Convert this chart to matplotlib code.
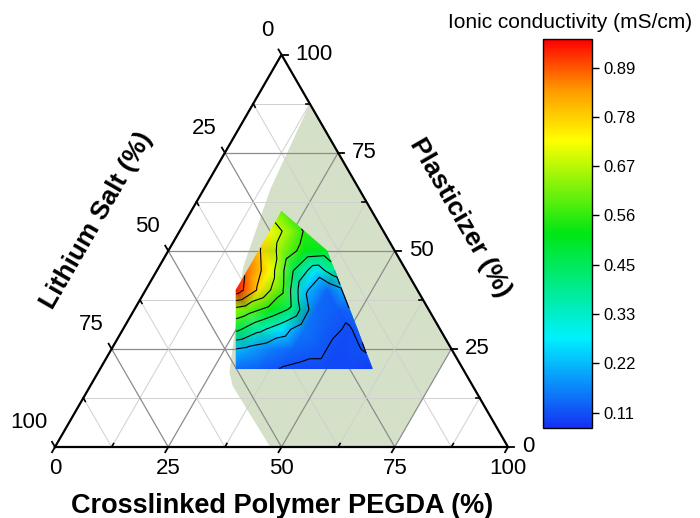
import numpy as np
import matplotlib.pyplot as plt
import matplotlib.tri as mtri
from matplotlib.colors import LinearSegmentedColormap, Normalize
from matplotlib.cm import ScalarMappable
from matplotlib.patches import Polygon

plt.rcParams['font.family'] = ['Liberation Sans', 'DejaVu Sans']


# =====================
# DATA (%)
# =====================

pegda = [20,
         20, 25, 27.5,
         20, 25, 30, 35,
         20, 25, 30, 35, 39.2,
         20, 25, 30, 35, 40, 43.3,
         22.5, 25, 30, 35, 40, 45, 47.5,
         25, 30, 35, 40, 45, 50, 51.7,
         27.5, 30, 35, 40, 45, 50, 55, 55.8,
         30, 35, 40, 45, 50, 55, 60]
plasticizer = [60,
               55, 55, 55,
               50, 50, 50, 50,
               45, 45, 45, 45, 45,
               40, 40, 40, 40, 40, 40,
               35, 35, 35, 35, 35, 35, 35,
               30, 30, 30, 30, 30, 30, 30,
               25, 25, 25, 25, 25, 25, 25, 25,
               20, 20, 20, 20, 20, 20, 20]
conductivity = [0.60,
                0.72, 0.62, 0.55,
                0.79, 0.63, 0.52, 0.50,
                0.87, 0.72, 0.45, 0.27, 0.40,
                0.95, 0.76, 0.58, 0.24, 0.13, 0.20,
                0.63, 0.60, 0.52, 0.42, 0.14, 0.12, 0.13,
                0.47, 0.36, 0.27, 0.15, 0.12, 0.105, 0.12,
                0.22, 0.20, 0.16, 0.13, 0.12, 0.10, 0.11, 0.115,
                0.14, 0.125, 0.108, 0.10, 0.10, 0.10, 0.09]

# shaded composition window
green_pegda = [12.5, 14.7, 18.6, 29.0, 31.5, 47.5, 75, 75]
green_plast = [87.5, 65.6, 45.9, 19.0, 15.5, 0, 0, 25]

axis_ticks = [0, 25, 50, 75, 100]
cbar_ticks = [0.11, 0.221, 0.333, 0.444, 0.556, 0.667, 0.779, 0.89]
cbar_labels = ['0.11', '0.22', '0.33', '0.45', '0.56', '0.67', '0.78', '0.89']


# =====================
# HELPERS
# =====================

H = np.sqrt(3) / 2
PX = 1 / 453  # one pixel in data units


def tern(c, p):
    c = np.asarray(c, dtype=float) / 100
    p = np.asarray(p, dtype=float) / 100
    return c + p / 2, p * H


def pix(xp, yp):
    return (xp - 55) * PX, (447 - yp) * PX


fig = plt.figure(figsize=(7, 5.18), dpi=100)
ax = fig.add_axes([0, 0, 1, 1])
ax.set_xlim(-55 * PX, 645 * PX)
ax.set_ylim(-71 * PX, 447 * PX)
ax.axis('off')

cmap = LinearSegmentedColormap.from_list('ionic', [
    (0.0, '#1432f5'), (0.23, '#00f0ff'), (0.50, '#00e614'),
    (0.74, '#ffff00'), (0.87, '#ff9900'), (1.0, '#ff0000')])
norm = Normalize(vmin=0.075, vmax=0.955)


# =====================
# SHADED REGION + GRID
# =====================

gx, gy = tern(green_pegda, green_plast)
ax.add_patch(Polygon(np.column_stack([gx, gy]), facecolor='#d5e0c8',
                     edgecolor='none', zorder=1))

for v in np.arange(12.5, 100, 12.5):
    major = v % 25 == 0
    col = '#8c8c8c' if major else '#d0d0d0'
    lw = 0.9 if major else 0.7
    for c0, p0, c1, p1 in [(0, v, 100 - v, v),
                           (v, 0, v, 100 - v),
                           (100 - v, 0, 0, 100 - v)]:
        x, y = tern([c0, c1], [p0, p1])
        ax.plot(x, y, color=col, lw=lw, zorder=2)


# =====================
# CONTOUR
# =====================

tx, ty = tern(pegda, plasticizer)
tri = mtri.Triangulation(tx, ty)
ax.tripcolor(tri, conductivity, shading='gouraud', cmap=cmap, norm=norm,
             zorder=3)
ax.tricontour(tri, conductivity, levels=cbar_ticks, colors='k',
              linewidths=0.8, zorder=4)


# =====================
# FRAME, TICKS, LABELS
# =====================

ax.plot([0, 1, 0.5, 0], [0, 0, H, 0], color='k', lw=1.6, zorder=6,
        solid_joinstyle='miter')

for v in np.arange(0, 100.1, 12.5):
    major = v % 25 == 0
    # bottom (PEGDA), right (plasticizer), left (lithium salt)
    for (c, p), d in [((v, 0), (-0.5, -H)),
                      ((100 - v, v), (1, 0)),
                      ((0, 100 - v), (-0.5, H))]:
        x, y = tern(c, p)
        if major:
            L = 6 * PX
            ax.plot([x, x + d[0] * L], [y, y + d[1] * L], color='k', lw=1.3,
                    zorder=6)
        else:
            L = 4 * PX
            ax.plot([x, x - d[0] * L], [y, y - d[1] * L], color='k', lw=1.2,
                    zorder=6)

for v in axis_ticks:
    x, y = tern(v, 0)
    ax.text(x, y - 21 * PX, str(v), fontsize=16, ha='center', va='center')
    x, y = tern(100 - v, v)
    ax.text(x + 14 * PX, y, str(v), fontsize=16, ha='left', va='center')
    x, y = tern(0, 100 - v)
    ax.text(x - 8 * PX, y + 24 * PX, str(v), fontsize=16, ha='right',
            va='center')

x, y = pix(282, 513)
ax.text(x, y, 'Crosslinked Polymer PEGDA (%)', fontsize=19.5,
        fontweight='bold', ha='center', va='baseline')
x, y = pix(97, 220)
ax.text(x, y, 'Lithium Salt (%)', fontsize=19, fontweight='bold',
        ha='center', va='center', rotation=60, rotation_mode='anchor')
x, y = pix(460, 218)
ax.text(x, y, 'Plasticizer (%)', fontsize=19, fontweight='bold',
        ha='center', va='center', rotation=-60, rotation_mode='anchor')


# =====================
# COLORBAR
# =====================

cax = fig.add_axes([543 / 700, (518 - 428) / 518, 49 / 700, 389 / 518])
cb = fig.colorbar(ScalarMappable(norm=norm, cmap=cmap), cax=cax,
                  ticks=cbar_ticks)
cb.set_ticklabels(cbar_labels)
cb.ax.tick_params(labelsize=12, length=5, width=1)
cb.outline.set_linewidth(1)
fig.text(570 / 700, 1 - 22 / 518, 'Ionic conductivity (mS/cm)', fontsize=15,
         ha='center', va='center')

fig.savefig('out.png', dpi=100)
